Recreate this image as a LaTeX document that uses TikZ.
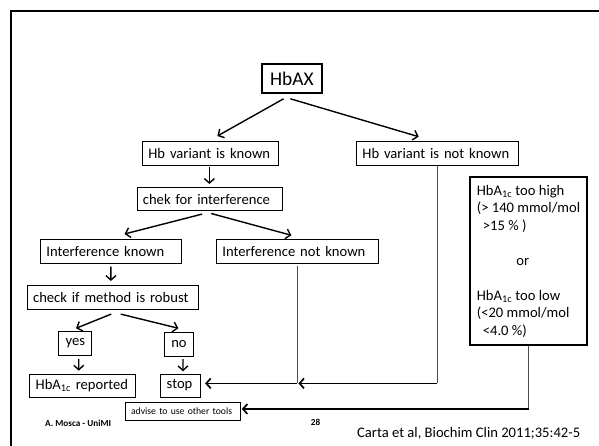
\documentclass[tikz,border=0pt]{standalone}
\usepackage{fontspec}
\setmainfont{Carlito}
\usetikzlibrary{arrows.meta}

\begin{document}
\begin{tikzpicture}[x=1pt,y=-1pt,
  box/.style={draw, line width=0.8pt, anchor=north west, inner xsep=6pt, inner ysep=0pt, align=left, font=\fontsize{14.6}{17.5}\selectfont},
  cbox/.style={box, align=center},
  arr/.style={line width=1.4pt, -{Straight Barb[length=4.5pt,width=10pt]}},
  harr/.style={line width=1.7pt, -{Straight Barb[length=4.5pt,width=10pt]}},
  thinline/.style={line width=0.9pt, draw=black!70},
  lbl/.style={inner sep=0pt}]
\useasboundingbox (0,0) rectangle (599,446);
\fill[white] (0,0) rectangle (599,446);
\begin{scope}
\clip (0,0) rectangle (599,446);
\draw[line width=2.6pt] (11,11) rectangle (620,470);
\end{scope}

\node[cbox, line width=1.8pt, minimum width=60pt, minimum height=29pt, text width=48pt, font=\fontsize{19.4}{22}\selectfont] (hbax) at (261,63) {HbAX};
\node[box, minimum width=136pt, minimum height=24pt, text width=124pt] (hbk) at (142,141) {\mbox{Hb variant is known}};
\node[box, minimum width=162pt, minimum height=24pt, text width=150pt] (hbn) at (356,141.5) {\mbox{Hb variant is not known}};
\node[box, minimum width=145pt, minimum height=23.5pt, text width=133pt] (chek) at (136.5,187) {\mbox{chek for interference}};
\node[box, minimum width=141pt, minimum height=24pt, text width=129pt] (ik) at (40,239) {\mbox{Interference known}};
\node[box, minimum width=162pt, minimum height=24pt, text width=150pt] (ink) at (216,239) {\mbox{Interference not known}};
\node[box, minimum width=170.8pt, minimum height=24pt, text width=158.8pt] (rob) at (26.7,285) {\mbox{check if method is robust}};
\node[cbox, minimum width=33pt, minimum height=24.3pt, text width=21pt] (yes) at (58.4,331) {yes};
\node[cbox, minimum width=28.7pt, minimum height=24.3pt, text width=16.7pt] (no) at (164.2,331.7) {no};
\node[box, minimum width=105.7pt, minimum height=23pt, text width=93.7pt] (rep) at (29.3,373.5) {\mbox{HbA\textsubscript{1c} reported}};
\node[box, minimum width=40pt, minimum height=23pt, text width=28pt] (stop) at (160.3,373.5) {stop};
\node[box, minimum width=115.3pt, minimum height=18.3pt, text width=103.3pt, font=\fontsize{9.7}{11}\selectfont] (adv) at (124.7,401.7) {\mbox{advise to use other tools}};
\node[draw, line width=2pt, anchor=north west, minimum width=117pt, minimum height=168pt, inner sep=0pt, align=left, font=\fontsize{14.6}{17.5}\selectfont] (rbox) at (469,176) {HbA\textsubscript{1c} too high\\(> 140 mmol/mol\\\hspace*{6pt}>15 \% )\\[17.5pt]\hspace*{39.6pt}or\\[17.5pt]HbA\textsubscript{1c} too low\\(<20 mmol/mol\\\hspace*{6pt}<4.0 \%)};

\node[lbl, anchor=west, font=\bfseries\fontsize{9.2}{11}\selectfont] (mosca) at (45,423.3) {A. Mosca - UniMI};
\node[lbl, font=\bfseries\fontsize{9.2}{11}\selectfont] (pg) at (315.5,422) {28};
\node[lbl, anchor=west, font=\fontsize{14.6}{17.5}\selectfont] (carta) at (357,433.3) {Carta et al, Biochim Clin 2011;35:42-5};

\draw[arr] ([xshift=-8.3pt,yshift=-5pt]hbax.south) -- ([xshift=7pt,yshift=5pt]hbk.north);
\draw[arr] ([xshift=-1.5pt,yshift=-5pt]hbax.south) -- ([xshift=-18.7pt,yshift=4.8pt]hbn.north);
\draw[arr] ([xshift=-1pt,yshift=-1.7pt]hbk.south) -- ([yshift=3pt]chek.north);
\draw[arr] ([xshift=-7.3pt,yshift=-2.8pt]chek.south) -- ([xshift=13.6pt,yshift=5pt]ik.north);
\draw[arr] ([xshift=1.8pt,yshift=-2.2pt]chek.south) -- ([xshift=-6pt,yshift=3.7pt]ink.north);
\draw[arr] ([yshift=-2.7pt]ik.south) -- ([xshift=-1.6pt,yshift=4pt]rob.north);
\draw[arr] ([xshift=-1.3pt,yshift=-4.3pt]rob.south) -- ([xshift=0.7pt,yshift=2.7pt]yes.north);
\draw[arr] ([xshift=8.2pt,yshift=-4.3pt]rob.south) -- ([xshift=-0.5pt,yshift=3.4pt]no.north);
\draw[arr] ([xshift=3.4pt,yshift=-3pt]yes.south) -- ([xshift=-3.8pt,yshift=2.8pt]rep.north);
\draw[arr] ([xshift=4pt,yshift=-2.3pt]no.south) -- ([xshift=2.3pt,yshift=2.2pt]stop.north);

\path (ink.south |- stop.east) ++(0,-2) coordinate (j1);
\draw[thinline] ([yshift=-2pt]ink.south) -- (j1);
\draw[harr, shorten >=4pt] (j1) -- (stop.east |- j1);
\path (hbn.south |- j1) coordinate (j2);
\draw[thinline] (hbn.south) -- (j2);
\draw[harr, shorten >=1pt] (j2) -- (j1);
\path (rbox.south) ++(0,63) coordinate (j3);
\draw[thinline] (rbox.south) -- (j3);
\draw[harr, shorten >=1pt] (j3) -- (adv.east |- j3);
\end{tikzpicture}
\end{document}
